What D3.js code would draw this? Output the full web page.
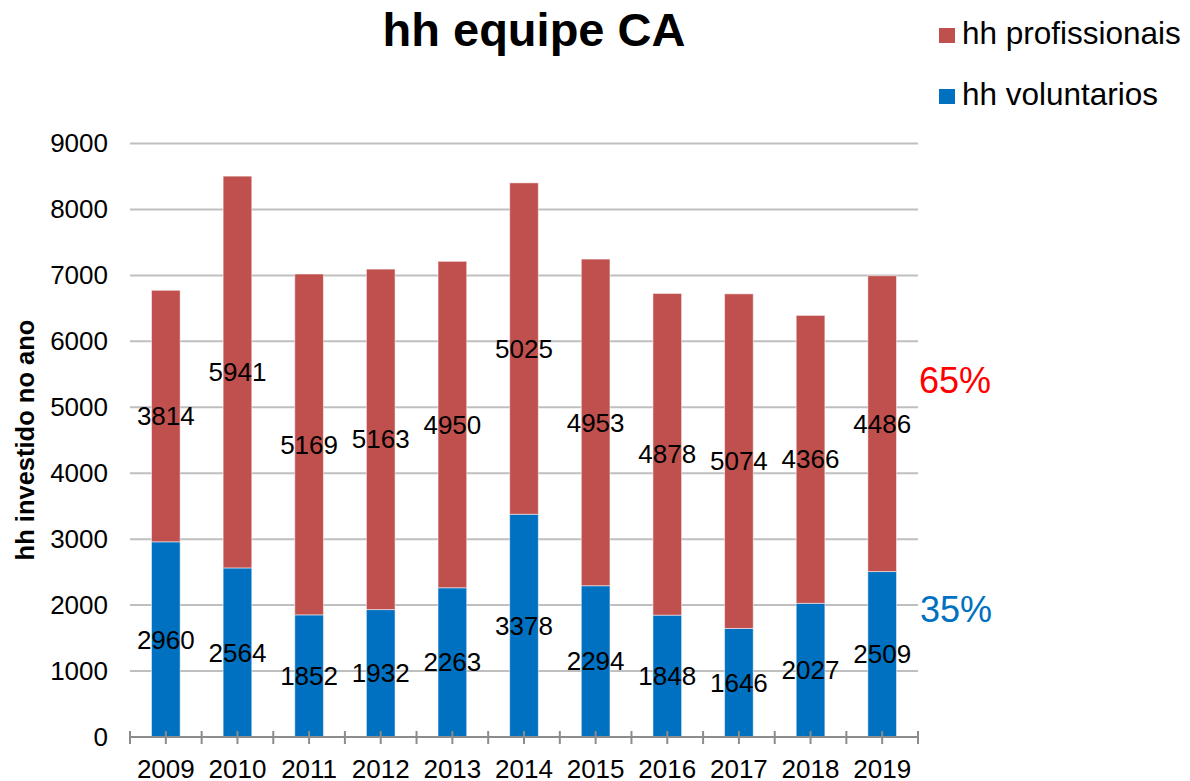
<!DOCTYPE html>
<html>
<head>
<meta charset="utf-8">
<script src="https://cdn.jsdelivr.net/npm/d3@7/dist/d3.min.js"></script>
<style>
  html, body { margin: 0; padding: 0; background: #fff; }
  svg { display: block; }
  text { font-family: "Liberation Sans", Arial, sans-serif; }
</style>
</head>
<body>
<svg id="chart" width="1190" height="781"></svg>
<script>
const years = ["2009","2010","2011","2012","2013","2014","2015","2016","2017","2018","2019"];
const voluntarios = [2960,2564,1852,1932,2263,3378,2294,1848,1646,2027,2509];
const profissionais = [3814,5941,5169,5163,4950,5025,4953,4878,5074,4366,4486];
const yTicks = [0,1000,2000,3000,4000,5000,6000,7000,8000,9000];
const seriesNames = ["hh voluntarios","hh profissionais"];
const seriesColors = ["#0070C0","#C0504D"];
const pctLabels = ["35%","65%"];
const pctColors = ["#0070C0","#FF0000"];

const svg = d3.select("#chart");
const plotLeft = 130, plotRight = 918, plotTop = 143.5, plotBottom = 737;

const x = d3.scaleBand().domain(years).range([plotLeft, plotRight]).padding(0);
const y = d3.scaleLinear().domain([0, 9000]).range([plotBottom, plotTop]);
const barW = x.bandwidth() * 0.4;

// gridlines
svg.append("g").selectAll("line").data(yTicks.filter(d => d > 0)).join("line")
  .attr("x1", plotLeft).attr("x2", plotRight)
  .attr("y1", d => y(d)).attr("y2", d => y(d))
  .attr("stroke", "#BFBFBF").attr("stroke-width", 2);

// y axis labels
const yAxis = d3.axisLeft(y).tickValues(yTicks).tickSize(0).tickPadding(22).tickFormat(d3.format("d"));
const gy = svg.append("g").attr("transform", `translate(${plotLeft},0)`).call(yAxis);
gy.select(".domain").remove();
gy.selectAll("text").attr("font-size", 26).attr("fill", "#000")
  .attr("font-family", "'Liberation Sans', Arial, sans-serif");

// stacked data
const rows = years.map((yr, i) => ({ year: yr, v: voluntarios[i], p: profissionais[i] }));
const stacked = d3.stack().keys(["v", "p"])(rows);

const gBars = svg.append("g");
stacked.forEach((layer, li) => {
  gBars.append("g").selectAll("rect").data(layer).join("rect")
    .attr("x", d => x(d.data.year) + (x.bandwidth() - barW) / 2)
    .attr("width", barW)
    .attr("y", d => y(d[1]))
    .attr("height", d => y(d[0]) - y(d[1]))
    .attr("fill", seriesColors[li])
    .attr("stroke", "#ffffff").attr("stroke-opacity", 0.5).attr("stroke-width", 1);
});

// x axis
const gx = svg.append("g");
gx.append("line").attr("x1", plotLeft).attr("x2", plotRight).attr("y1", plotBottom).attr("y2", plotBottom)
  .attr("stroke", "#8C8C8C").attr("stroke-width", 2);
const tickXs = [];
years.forEach(yr => { tickXs.push(x(yr)); tickXs.push(x(yr) + x.bandwidth() / 2); });
tickXs.push(plotRight);
gx.selectAll("line.tk").data(tickXs).join("line").attr("class", "tk")
  .attr("x1", d => d).attr("x2", d => d)
  .attr("y1", plotBottom - 6).attr("y2", plotBottom + 7)
  .attr("stroke", "#8C8C8C").attr("stroke-width", 2);
gx.selectAll("text").data(years).join("text")
  .attr("x", d => x(d) + x.bandwidth() / 2).attr("y", 778)
  .attr("text-anchor", "middle").attr("font-size", 26).attr("fill", "#000")
  .text(d => d);

// data labels
const gLabels = svg.append("g");
stacked.forEach(layer => {
  gLabels.append("g").selectAll("text").data(layer).join("text")
    .attr("x", d => x(d.data.year) + x.bandwidth() / 2)
    .attr("y", d => y((d[0] + d[1]) / 2))
    .attr("dy", "0.35em")
    .attr("text-anchor", "middle").attr("font-size", 26).attr("fill", "#000")
    .text(d => d[1] - d[0]);
});

// percentage annotations
svg.append("text").attr("x", 919).attr("y", 393).attr("font-size", 36)
  .attr("fill", pctColors[1]).text(pctLabels[1]);
svg.append("text").attr("x", 920).attr("y", 622).attr("font-size", 36)
  .attr("fill", pctColors[0]).text(pctLabels[0]);

// title
svg.append("text").attr("x", 534).attr("y", 46).attr("text-anchor", "middle")
  .attr("font-size", 47).attr("font-weight", "bold").attr("fill", "#000")
  .text("hh equipe CA");

// y axis title
svg.append("text").attr("transform", "translate(34,440) rotate(-90)")
  .attr("text-anchor", "middle").attr("font-size", 25.5).attr("font-weight", "bold").attr("fill", "#000")
  .text("hh investido no ano");

// legend
const legendItems = [{ name: seriesNames[1], color: seriesColors[1], y: 44 },
                     { name: seriesNames[0], color: seriesColors[0], y: 105 }];
const gl = svg.append("g");
legendItems.forEach(it => {
  gl.append("rect").attr("x", 939).attr("y", it.y - 16).attr("width", 16).attr("height", 15).attr("fill", it.color);
  gl.append("text").attr("x", 962).attr("y", it.y).attr("font-size", 31.5).attr("fill", "#000").text(it.name);
});
</script>
</body>
</html>
